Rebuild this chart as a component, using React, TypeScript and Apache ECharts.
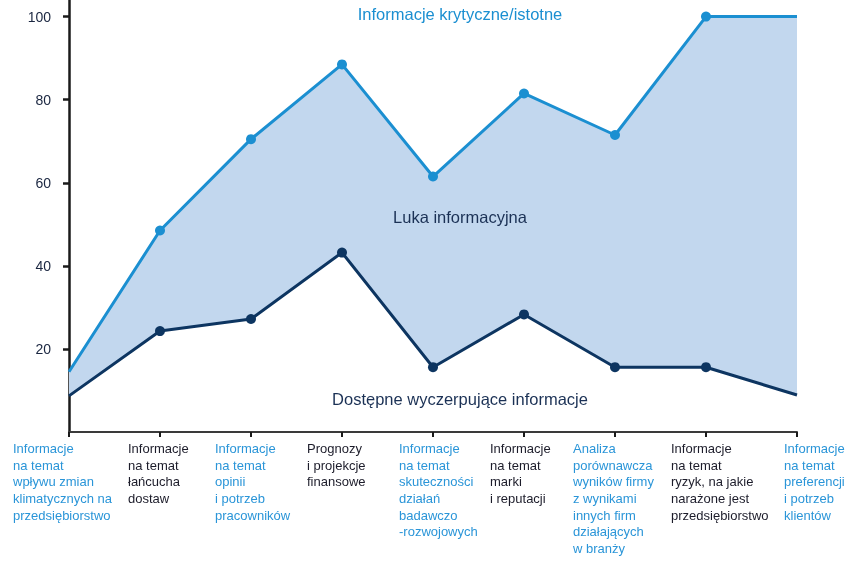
import React, { useEffect, useRef } from "react";
import * as echarts from "echarts";

const categories: string[] = [
  "Informacje\nna temat\nwpływu zmian\nklimatycznych na\nprzedsiębiorstwo",
  "Informacje\nna temat\nłańcucha\ndostaw",
  "Informacje\nna temat\nopinii\ni potrzeb\npracowników",
  "Prognozy\ni projekcje\nfinansowe",
  "Informacje\nna temat\nskuteczności\ndziałań\nbadawczo\n-rozwojowych",
  "Informacje\nna temat\nmarki\ni reputacji",
  "Analiza\nporównawcza\nwyników firmy\nz wynikami\ninnych firm\ndziałających\nw branży",
  "Informacje\nna temat\nryzyk, na jakie\nnarażone jest\nprzedsiębiorstwo",
  "Informacje\nna temat\npreferencji\ni potrzeb\nklientów",
];

const criticalValues: number[] = [14.5, 48.5, 70.5, 88.5, 61.5, 81.5, 71.5, 100, 100];
const availableValues: number[] = [8.7, 24.3, 27.2, 43.2, 15.6, 28.3, 15.6, 15.6, 8.9];
const yTickValues: number[] = [20, 40, 60, 80, 100];

const seriesNames = {
  critical: "Informacje krytyczne/istotne",
  gap: "Luka informacyjna",
  available: "Dostępne wyczerpujące informacje",
};

// presentation
const BLUE = "#1b8fd1";
const NAVY = "#0d3561";
const AREA = "#c2d7ee";
const LABEL_BLUE = "#2a95d8";
const LABEL_DARK = "#1c1c2a";
const labelWidths = [112, 64, 72, 70, 68, 68, 84, 70, 26];
const FONT = "'Liberation Sans', Arial, Helvetica, sans-serif";

export default function App() {
  const ref = useRef<HTMLDivElement>(null);

  useEffect(() => {
    if (!ref.current) return;
    const chart = echarts.init(ref.current, undefined, { renderer: "svg" });

    const rich: Record<string, any> = {};
    categories.forEach((_, i) => {
      rich["s" + i] = {
        width: labelWidths[i],
        align: "left",
        fontSize: 13,
        lineHeight: 16.7,
        fontFamily: FONT,
        color: i % 2 === 0 ? LABEL_BLUE : LABEL_DARK,
      };
    });

    const gapValues = criticalValues.map((v, i) => v - availableValues[i]);
    const lastIdx = categories.length - 1;
    const withMarkers = (arr: number[]) =>
      arr.map((v, i) => (i === 0 || i === lastIdx ? { value: v, symbol: "none" } : { value: v }));

    chart.setOption({
      animation: false,
      textStyle: { fontFamily: FONT },
      grid: { left: 69, right: 58, top: 0, bottom: 129, containLabel: false },
      xAxis: {
        type: "category",
        data: categories,
        boundaryGap: false,
        axisLine: { show: true, lineStyle: { color: "#3a3a3a", width: 2 } },
        axisTick: { show: true, inside: false, length: 5, lineStyle: { color: "#1a1a1a", width: 2 } },
        axisLabel: {
          interval: 0,
          margin: 8,
          align: "center",
          verticalAlign: "top",
          formatter: (value: string, index: number) =>
            value
              .split("\n")
              .map((line) => `{s${index}|${line}}`)
              .join("\n"),
          rich,
        },
        splitLine: { show: false },
      },
      yAxis: {
        type: "value",
        min: 0,
        max: 104,
        interval: 20,
        axisLine: { show: true, lineStyle: { color: "#1a1a1a", width: 2.5 } },
        axisTick: {
          show: true,
          length: 6,
          customValues: yTickValues,
          lineStyle: { color: "#1a1a1a", width: 2.5 },
        },
        axisLabel: {
          customValues: yTickValues,
          margin: 18,
          fontSize: 14,
          color: "#1a2640",
          fontFamily: FONT,
        },
        splitLine: { show: false },
      },
      series: [
        {
          name: "base",
          type: "line",
          stack: "gap",
          data: availableValues,
          symbol: "none",
          lineStyle: { opacity: 0 },
          silent: true,
          z: 1,
        },
        {
          name: seriesNames.gap,
          type: "line",
          stack: "gap",
          data: gapValues,
          symbol: "none",
          lineStyle: { opacity: 0 },
          areaStyle: { color: AREA, opacity: 1 },
          silent: true,
          z: 1,
        },
        {
          name: seriesNames.critical,
          type: "line",
          data: withMarkers(criticalValues),
          symbol: "circle",
          symbolSize: 10,
          lineStyle: { color: BLUE, width: 3 },
          itemStyle: { color: BLUE },
          z: 3,
        },
        {
          name: seriesNames.available,
          type: "line",
          data: withMarkers(availableValues),
          symbol: "circle",
          symbolSize: 10,
          lineStyle: { color: NAVY, width: 3 },
          itemStyle: { color: NAVY },
          z: 3,
        },
      ],
      graphic: [
        {
          type: "text",
          x: 460,
          y: 14,
          style: {
            text: seriesNames.critical,
            fill: BLUE,
            fontSize: 16.5,
            fontFamily: FONT,
            textAlign: "center",
            textVerticalAlign: "middle",
          },
          z: 10,
        },
        {
          type: "text",
          x: 460,
          y: 217,
          style: {
            text: seriesNames.gap,
            fill: "#1b3155",
            fontSize: 16.5,
            fontFamily: FONT,
            textAlign: "center",
            textVerticalAlign: "middle",
          },
          z: 10,
        },
        {
          type: "text",
          x: 460,
          y: 399,
          style: {
            text: seriesNames.available,
            fill: "#1b3155",
            fontSize: 16.5,
            fontFamily: FONT,
            textAlign: "center",
            textVerticalAlign: "middle",
          },
          z: 10,
        },
      ],
    });

    return () => chart.dispose();
  }, []);

  return (
    <div
      ref={ref}
      style={{ position: "fixed", left: 0, top: 0, width: 855, height: 561 }}
    />
  );
}
